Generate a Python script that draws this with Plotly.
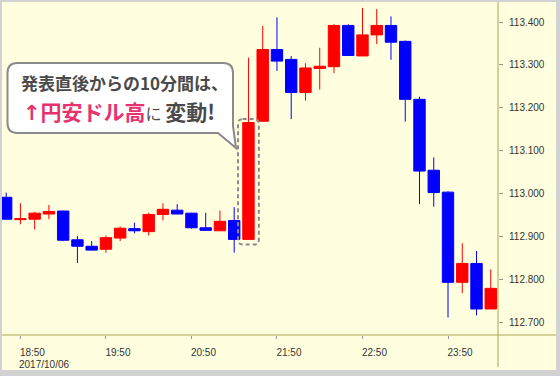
import pandas as pd
import plotly.graph_objects as go

# ---------------- data ----------------
times = pd.date_range("2017-10-06 18:40", "2017-10-07 00:20", freq="10min")
opens = [112.992, 112.940, 112.941, 112.953, 112.960, 112.893, 112.878, 112.871, 112.897, 112.919,
         112.912, 112.952, 112.962, 112.955, 112.921, 112.914, 112.938, 112.894, 113.169, 113.336,
         113.313, 113.236, 113.292, 113.296, 113.392, 113.321, 113.370, 113.392, 113.355, 113.220,
         113.055, 113.004, 112.794, 112.838, 112.732]
highs = [113.003, 112.978, 112.958, 112.974, 112.961, 112.902, 112.890, 112.903, 112.924, 112.933,
         112.956, 112.978, 112.976, 112.956, 112.956, 112.961, 112.969, 113.317, 113.391, 113.411,
         113.321, 113.304, 113.340, 113.395, 113.395, 113.433, 113.430, 113.413, 113.357, 113.226,
         113.085, 113.006, 112.885, 112.867, 112.824]
lows = [112.940, 112.929, 112.917, 112.941, 112.890, 112.839, 112.868, 112.863, 112.890, 112.908,
        112.903, 112.938, 112.953, 112.919, 112.915, 112.914, 112.863, 112.894, 113.169, 113.286,
        113.174, 113.217, 113.243, 113.281, 113.322, 113.321, 113.349, 113.312, 113.168, 112.976,
        112.970, 112.712, 112.769, 112.717, 112.732]
closes = [112.941, 112.942, 112.955, 112.959, 112.892, 112.878, 112.869, 112.898, 112.920, 112.914,
          112.952, 112.964, 112.953, 112.921, 112.915, 112.936, 112.894, 113.166, 113.336, 113.309,
          113.236, 113.293, 113.297, 113.392, 113.322, 113.370, 113.392, 113.353, 113.220, 113.053,
          113.003, 112.794, 112.838, 112.732, 112.780]

xtick_times = ["2017-10-06 18:50", "2017-10-06 19:50", "2017-10-06 20:50",
               "2017-10-06 21:50", "2017-10-06 22:50", "2017-10-06 23:50"]
xtick_labels = ["18:50", "19:50", "20:50", "21:50", "22:50", "23:50"]
date_label = "2017/10/06"
ytick_vals = [112.7, 112.8, 112.9, 113.0, 113.1, 113.2, 113.3, 113.4]

highlight_time = pd.Timestamp("2017-10-06 21:30")
callout_line1 = "発表直後からの10分間は、"
callout_line2 = ("<span style='color:#e8316f;font-size:21px'><b>"
                 "<span style='font-family:DejaVu Sans'>↑</span>円安ドル高</b></span>"
                 "<span style='font-size:16px'>に </span>"
                 "<span style='font-size:21px'><b>変動!</b></span>")

# ---------------- layout helpers (pixels -> paper) ----------------
W, H = 560, 376
L, R, T, B = 2, 498, 2, 335   # plot area in pixels


def px(x):
    return (x - L) / (R - L)


def py(y):
    return (B - y) / (B - T)


AX = "#aaa550"
fig = go.Figure()
fig.add_trace(go.Candlestick(
    x=times, open=opens, high=highs, low=lows, close=closes,
    increasing=dict(line=dict(color="#ff0000", width=1), fillcolor="#ff0000"),
    decreasing=dict(line=dict(color="#0000ff", width=1), fillcolor="#0000ff"),
    whiskerwidth=0, hoverinfo="skip", showlegend=False,
))

shapes = []
# yellow panel
shapes.append(dict(type="rect", xref="paper", yref="paper", layer="below",
                   x0=px(2), x1=px(556), y0=py(370), y1=py(2),
                   fillcolor="#ffffe0", line=dict(width=0)))
# axis lines (extended)
shapes.append(dict(type="line", xref="paper", yref="paper", x0=px(2), x1=px(556),
                   y0=0, y1=0, line=dict(color=AX, width=1)))
shapes.append(dict(type="line", xref="paper", yref="paper", x0=1, x1=1,
                   y0=py(367), y1=1, line=dict(color=AX, width=1)))

# dashed highlight box around the announcement candle (data coordinates)
i = list(times).index(highlight_time)
ylo = opens[i] - 0.012
yhi = closes[i] + 0.008
dt = pd.Timedelta(minutes=7.3)
rx = pd.Timedelta(minutes=3.2)
ry = 0.011


def ds(t):
    return t.strftime("%Y-%m-%d_%H:%M:%S")


xl, xr = highlight_time - dt, highlight_time + dt
path = (f"M{ds(xl + rx)},{yhi} L{ds(xr - rx)},{yhi} Q{ds(xr)},{yhi} {ds(xr)},{yhi - ry} "
        f"L{ds(xr)},{ylo + ry} Q{ds(xr)},{ylo} {ds(xr - rx)},{ylo} "
        f"L{ds(xl + rx)},{ylo} Q{ds(xl)},{ylo} {ds(xl)},{ylo + ry} "
        f"L{ds(xl)},{yhi - ry} Q{ds(xl)},{yhi} {ds(xl + rx)},{yhi} Z")
shapes.append(dict(type="path", xref="x", yref="y", path=path,
                   line=dict(color="#8a8a8a", width=2, dash="4px,3px")))

# speech bubble
bx0, bx1, by0, by1, r = 7.5, 233, 63, 133, 10
tail_tip = (236, 148)
tail_l = (218, by1)
tail_r = (bx1, 126)


def P(x, y):
    return f"{px(x):.5f},{py(y):.5f}"


bubble = (f"M{P(bx0 + r, by0)} L{P(bx1 - r, by0)} Q{P(bx1, by0)} {P(bx1, by0 + r)} "
          f"L{P(*tail_r)} L{P(*tail_tip)} L{P(*tail_l)} L{P(bx0 + r, by1)} "
          f"Q{P(bx0, by1)} {P(bx0, by1 - r)} L{P(bx0, by0 + r)} Q{P(bx0, by0)} {P(bx0 + r, by0)} Z")
shapes.append(dict(type="path", xref="paper", yref="paper", path=bubble,
                   fillcolor="#ffffff", line=dict(color="#8a8a8a", width=2)))

JP = "Noto Sans CJK JP"
annotations = [
    dict(xref="paper", yref="paper", x=px(124), y=py(83), text=f"<b>{callout_line1}</b>",
         showarrow=False, xanchor="center", yanchor="middle",
         font=dict(family=JP, size=17, color="#4a4a4a")),
    dict(xref="paper", yref="paper", x=px(119), y=py(111), text=callout_line2,
         showarrow=False, xanchor="center", yanchor="middle",
         font=dict(family=JP, size=16, color="#4a4a4a")),
    dict(xref="x", yref="paper", x=xtick_times[0], y=py(364), text=date_label,
         showarrow=False, xanchor="left", yanchor="middle", xshift=-3,
         font=dict(family="Liberation Sans, Arial", size=10, color="#333333")),
]

x0 = pd.Timestamp("2017-10-06 18:37:05")
x1 = pd.Timestamp("2017-10-07 00:25:05")
fig.update_layout(
    width=W, height=H,
    margin=dict(l=L, r=W - R, t=T, b=H - B, pad=0),
    paper_bgcolor="#d2d2d2", plot_bgcolor="#ffffe0",
    boxgap=0.2, boxgroupgap=0.0,
    shapes=shapes, annotations=annotations,
    font=dict(family="Liberation Sans, Arial", size=10, color="#333333"),
    xaxis=dict(type="date", range=[x0, x1], rangeslider=dict(visible=False),
               showgrid=False, zeroline=False, showline=False,
               tickmode="array", tickvals=xtick_times, ticktext=xtick_labels,
               ticks="outside", ticklen=3, tickcolor="#999999", tickwidth=1,
               ticklabelshift=12, ticklabelstandoff=5,
               tickfont=dict(size=10, color="#333333"), fixedrange=True),
    yaxis=dict(side="right", range=[112.6714, 113.4466], showgrid=False,
               zeroline=False, showline=False, tickmode="array", tickvals=ytick_vals,
               tickformat=".3f", ticks="outside", ticklen=4, tickcolor="#999999",
               ticklabelstandoff=4,
               tickfont=dict(size=10, color="#333333"), fixedrange=True),
    hovermode=False,
)

fig.write_html("out.html")
